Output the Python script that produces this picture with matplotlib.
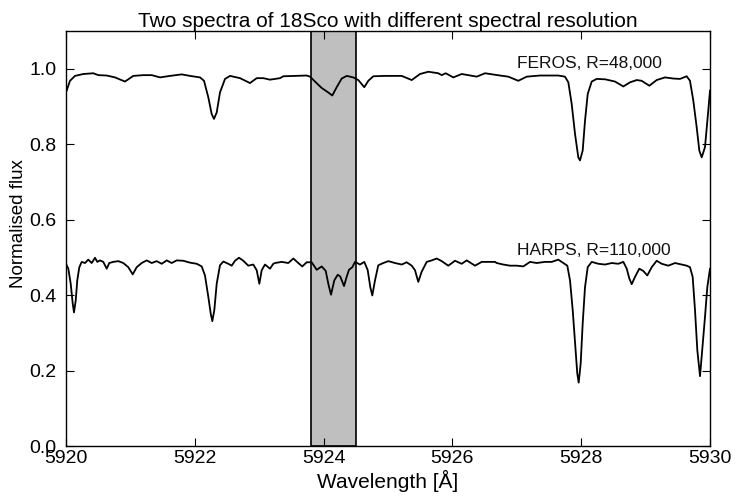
import matplotlib
matplotlib.use("Agg")
import matplotlib.pyplot as plt

# FEROS spectrum (R=48,000)
feros_wave = [5920.000, 5920.062, 5920.140, 5920.269, 5920.424, 5920.502, 5920.632, 5920.761,
              5920.916, 5921.045, 5921.200, 5921.331, 5921.460, 5921.615, 5921.797, 5921.925,
              5922.081, 5922.143, 5922.210, 5922.262, 5922.298, 5922.340, 5922.391, 5922.469,
              5922.547, 5922.702, 5922.857, 5922.961, 5923.064, 5923.168, 5923.323, 5923.374,
              5923.556, 5923.738, 5923.789, 5923.866, 5923.970, 5924.073, 5924.135, 5924.203,
              5924.281, 5924.359, 5924.461, 5924.539, 5924.632, 5924.694, 5924.772, 5924.953,
              5925.213, 5925.368, 5925.497, 5925.626, 5925.781, 5925.834, 5925.896, 5926.014,
              5926.144, 5926.247, 5926.377, 5926.506, 5926.661, 5926.739, 5926.868, 5927.023,
              5927.154, 5927.360, 5927.516, 5927.644, 5927.748, 5927.800, 5927.852, 5927.904,
              5927.955, 5927.981, 5928.023, 5928.059, 5928.101, 5928.163, 5928.241, 5928.370,
              5928.525, 5928.654, 5928.758, 5928.862, 5928.939, 5929.058, 5929.172, 5929.301,
              5929.430, 5929.534, 5929.638, 5929.689, 5929.741, 5929.793, 5929.834, 5929.871,
              5929.922, 5929.973, 5930.000]
feros_flux = [0.937, 0.968, 0.981, 0.986, 0.988, 0.983, 0.982, 0.977,
              0.966, 0.981, 0.983, 0.983, 0.977, 0.981, 0.985, 0.981,
              0.977, 0.968, 0.924, 0.880, 0.867, 0.884, 0.937, 0.973,
              0.981, 0.975, 0.962, 0.975, 0.975, 0.971, 0.975, 0.980,
              0.981, 0.982, 0.979, 0.966, 0.949, 0.937, 0.929, 0.951,
              0.974, 0.981, 0.977, 0.970, 0.951, 0.968, 0.980, 0.981,
              0.981, 0.970, 0.986, 0.992, 0.988, 0.983, 0.988, 0.977,
              0.986, 0.983, 0.979, 0.988, 0.984, 0.982, 0.979, 0.968,
              0.979, 0.982, 0.982, 0.982, 0.979, 0.964, 0.907, 0.827,
              0.765, 0.757, 0.783, 0.862, 0.933, 0.966, 0.973, 0.972,
              0.966, 0.953, 0.964, 0.970, 0.968, 0.955, 0.970, 0.977,
              0.974, 0.973, 0.980, 0.968, 0.915, 0.845, 0.783, 0.765,
              0.792, 0.889, 0.942]

# HARPS spectrum (R=110,000)
harps_wave = [5920.000, 5920.036, 5920.073, 5920.104, 5920.124, 5920.151, 5920.175, 5920.207,
              5920.244, 5920.295, 5920.346, 5920.399, 5920.450, 5920.486, 5920.528, 5920.579,
              5920.632, 5920.672, 5920.734, 5920.812, 5920.890, 5920.967, 5921.036, 5921.098,
              5921.175, 5921.253, 5921.331, 5921.408, 5921.486, 5921.564, 5921.641, 5921.719,
              5921.821, 5921.925, 5922.030, 5922.107, 5922.158, 5922.210, 5922.247, 5922.272,
              5922.303, 5922.340, 5922.391, 5922.443, 5922.520, 5922.573, 5922.624, 5922.686,
              5922.753, 5922.831, 5922.908, 5922.961, 5923.002, 5923.039, 5923.090, 5923.168,
              5923.219, 5923.245, 5923.349, 5923.452, 5923.530, 5923.607, 5923.669, 5923.738,
              5923.815, 5923.893, 5923.970, 5924.033, 5924.073, 5924.115, 5924.166, 5924.219,
              5924.259, 5924.317, 5924.359, 5924.394, 5924.446, 5924.488, 5924.565, 5924.632,
              5924.685, 5924.725, 5924.756, 5924.798, 5924.849, 5924.927, 5925.005, 5925.109,
              5925.213, 5925.290, 5925.368, 5925.419, 5925.470, 5925.523, 5925.601, 5925.679,
              5925.756, 5925.834, 5925.936, 5926.040, 5926.144, 5926.222, 5926.351, 5926.455,
              5926.557, 5926.661, 5926.688, 5926.790, 5926.894, 5926.998, 5927.101, 5927.205,
              5927.309, 5927.438, 5927.542, 5927.644, 5927.722, 5927.784, 5927.826, 5927.868,
              5927.908, 5927.939, 5927.961, 5927.992, 5928.023, 5928.059, 5928.101, 5928.163,
              5928.266, 5928.370, 5928.474, 5928.576, 5928.654, 5928.707, 5928.747, 5928.784,
              5928.835, 5928.902, 5928.964, 5929.026, 5929.095, 5929.172, 5929.250, 5929.352,
              5929.457, 5929.561, 5929.638, 5929.689, 5929.731, 5929.767, 5929.803, 5929.845,
              5929.870, 5929.922, 5929.958, 5930.000]
harps_flux = [0.483, 0.470, 0.430, 0.378, 0.354, 0.386, 0.439, 0.474,
              0.488, 0.485, 0.494, 0.485, 0.499, 0.488, 0.492, 0.488,
              0.470, 0.485, 0.488, 0.490, 0.485, 0.474, 0.455, 0.474,
              0.485, 0.492, 0.485, 0.490, 0.483, 0.492, 0.485, 0.492,
              0.491, 0.486, 0.483, 0.476, 0.452, 0.395, 0.351, 0.331,
              0.360, 0.430, 0.479, 0.489, 0.483, 0.478, 0.491, 0.499,
              0.491, 0.478, 0.481, 0.466, 0.430, 0.466, 0.481, 0.470,
              0.483, 0.485, 0.488, 0.485, 0.497, 0.485, 0.476, 0.487,
              0.487, 0.467, 0.476, 0.464, 0.430, 0.401, 0.439, 0.454,
              0.449, 0.424, 0.449, 0.467, 0.474, 0.488, 0.481, 0.488,
              0.466, 0.421, 0.399, 0.439, 0.479, 0.485, 0.490, 0.485,
              0.481, 0.487, 0.478, 0.466, 0.435, 0.462, 0.488, 0.492,
              0.497, 0.490, 0.478, 0.491, 0.483, 0.492, 0.478, 0.488,
              0.488, 0.488, 0.485, 0.481, 0.478, 0.478, 0.476, 0.488,
              0.485, 0.488, 0.488, 0.494, 0.485, 0.478, 0.439, 0.360,
              0.263, 0.192, 0.168, 0.219, 0.325, 0.421, 0.474, 0.488,
              0.483, 0.481, 0.485, 0.483, 0.488, 0.470, 0.444, 0.429,
              0.448, 0.470, 0.464, 0.452, 0.474, 0.491, 0.483, 0.478,
              0.485, 0.481, 0.478, 0.474, 0.448, 0.360, 0.254, 0.185,
              0.236, 0.342, 0.421, 0.470]

shade_range = [5923.80, 5924.50]
x_ticks = [5920, 5922, 5924, 5926, 5928, 5930]
y_ticks = [0.0, 0.2, 0.4, 0.6, 0.8, 1.0]
labels = ["FEROS, R=48,000", "HARPS, R=110,000"]
label_pos = [(5927.0, 1.013), (5927.0, 0.518)]

plt.rcParams['font.family'] = ['Liberation Sans', 'DejaVu Sans']

fig = plt.figure(figsize=(7.35, 4.96), dpi=100)
ax = fig.add_axes([0.0898, 0.1008, 0.8762, 0.8367])

ax.axvspan(shade_range[0], shade_range[1], facecolor='#bfbfbf', edgecolor='black', linewidth=1.2, zorder=1)
ax.plot(feros_wave, feros_flux, color='black', linewidth=1.3, zorder=2)
ax.plot(harps_wave, harps_flux, color='black', linewidth=1.3, zorder=2)

for txt, (xx, yy) in zip(labels, label_pos):
    ax.text(xx, yy, txt, fontsize=12.5, ha='left', va='center', color='#111111')

ax.set_xlim(5920, 5930)
ax.set_ylim(0, 1.1)
ax.set_xticks(x_ticks)
ax.set_yticks(y_ticks)
ax.set_xticklabels([str(t) for t in x_ticks])
ax.set_yticklabels(["%.1f" % t for t in y_ticks])
ax.tick_params(direction='in', length=6, width=0.8, top=True, right=True, labelsize=14)
ax.tick_params(axis='x', pad=3)
ax.tick_params(axis='y', pad=7)

ax.set_title("Two spectra of 18Sco with different spectral resolution", fontsize=15, pad=3)
ax.set_xlabel("Wavelength [Å]", fontsize=15, labelpad=2)
ax.set_ylabel("Normalised flux", fontsize=13.5)
ax.yaxis.set_label_coords(-0.06, 0.535)

for s in ax.spines.values():
    s.set_linewidth(1.0)

fig.savefig("out.png", dpi=100)
